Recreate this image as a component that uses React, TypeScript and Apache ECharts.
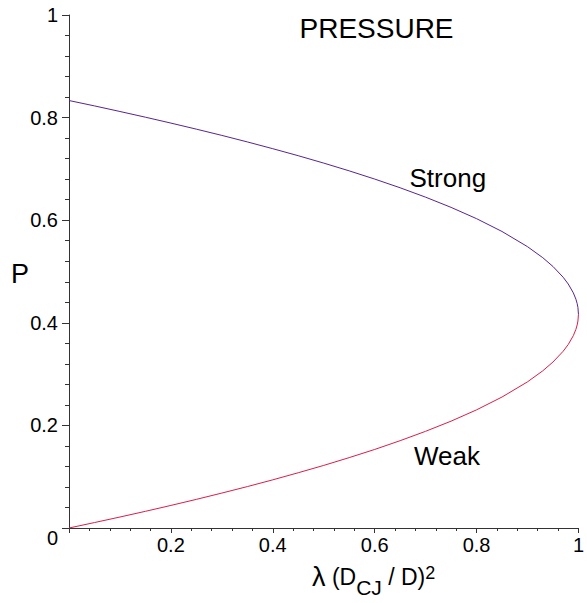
import React, { useEffect, useRef } from "react";
import * as echarts from "echarts";

// Values (lambda, P)
const lambdaValues = [0, 0.05, 0.1, 0.15, 0.2, 0.25, 0.3, 0.35, 0.4, 0.45, 0.5, 0.55, 0.6, 0.65, 0.7, 0.75, 0.8, 0.85, 0.9, 0.93, 0.95, 0.97, 0.98, 0.99, 0.995, 0.9975, 0.999, 1];
const strongP = [0.8333, 0.8228, 0.8119, 0.8008, 0.7893, 0.7775, 0.7653, 0.7526, 0.7394, 0.7257, 0.7113, 0.6962, 0.6802, 0.6632, 0.6449, 0.625, 0.603, 0.578, 0.5484, 0.5269, 0.5098, 0.4888, 0.4756, 0.4583, 0.4461, 0.4375, 0.4298, 0.4167];
const weakP = [0, 0.0106, 0.0214, 0.0325, 0.044, 0.0558, 0.0681, 0.0807, 0.0939, 0.1077, 0.122, 0.1372, 0.1531, 0.1702, 0.1885, 0.2083, 0.2303, 0.2553, 0.2849, 0.3064, 0.3235, 0.3445, 0.3577, 0.375, 0.3872, 0.3958, 0.4035, 0.4167];
const xTicks = { min: 0, max: 1, interval: 0.2 };
const yTicks = { min: 0, max: 1, interval: 0.2 };

const FONT = "'Liberation Sans', Arial, Helvetica, sans-serif";

export default function App() {
  const ref = useRef<HTMLDivElement>(null);
  useEffect(() => {
    if (!ref.current) return;
    const chart = echarts.init(ref.current, undefined, { renderer: "svg" });
    const strongData = lambdaValues.map((x, i) => [x, strongP[i]]);
    const weakData = lambdaValues.map((x, i) => [x, weakP[i]]);
    const axisColor = "#333";
    chart.setOption({
      animation: false,
      backgroundColor: "#fff",
      grid: { left: 69, right: 6, top: 15, bottom: 75, containLabel: false },
      xAxis: {
        type: "value",
        min: xTicks.min,
        max: xTicks.max,
        interval: xTicks.interval,
        axisLine: { show: true, onZero: false, lineStyle: { color: axisColor, width: 1 } },
        axisTick: { show: true, length: 5, lineStyle: { color: axisColor } },
        minorTick: { show: true, splitNumber: 5, length: 3, lineStyle: { color: axisColor } },
        splitLine: { show: false },
        axisLabel: {
          color: "#000",
          fontSize: 20,
          fontFamily: FONT,
          margin: 7,
          showMaxLabel: true,
          formatter: (v: number) => (v === 0 ? "" : String(Math.round(v * 10) / 10)),
        },
      },
      yAxis: {
        type: "value",
        min: yTicks.min,
        max: yTicks.max,
        interval: yTicks.interval,
        axisLine: { show: true, onZero: false, lineStyle: { color: axisColor, width: 1 } },
        axisTick: { show: true, length: 7, lineStyle: { color: axisColor } },
        minorTick: { show: true, splitNumber: 5, length: 4, lineStyle: { color: axisColor } },
        splitLine: { show: false },
        axisLabel: {
          color: "#000",
          fontSize: 20,
          fontFamily: FONT,
          margin: 11,
          showMaxLabel: true,
          formatter: (v: number) => (v === 0 ? "{z|0}" : String(Math.round(v * 10) / 10)),
          rich: { z: { fontSize: 20, fontFamily: FONT, color: "#000", padding: [19, 0, 0, 0] } },
        },
      },
      series: [
        {
          name: "Strong",
          type: "line",
          data: strongData,
          showSymbol: false,
          symbol: "none",
          lineStyle: { color: "#55268f", width: 1 },
          z: 3,
        },
        {
          name: "Weak",
          type: "line",
          data: weakData,
          showSymbol: false,
          symbol: "none",
          lineStyle: { color: "#d91e48", width: 1 },
          z: 2,
        },
      ],
      graphic: [
        {
          type: "text",
          x: 299.5,
          y: 28.5,
          style: { text: "PRESSURE", fontSize: 28, fontFamily: FONT, fill: "#000", verticalAlign: "middle", align: "left" },
        },
        {
          type: "text",
          x: 409.5,
          y: 177.5,
          style: { text: "Strong", fontSize: 26, fontFamily: FONT, fill: "#000", verticalAlign: "middle", align: "left" },
        },
        {
          type: "text",
          x: 414,
          y: 456,
          style: { text: "Weak", fontSize: 26, fontFamily: FONT, fill: "#000", verticalAlign: "middle", align: "left" },
        },
        {
          type: "text",
          x: 11,
          y: 273.5,
          style: { text: "P", fontSize: 27, fontFamily: FONT, fill: "#000", verticalAlign: "middle", align: "left" },
        },
        {
          type: "text",
          x: 312,
          y: 577,
          style: {
            text: "{l|λ}{n| (D}{s|CJ}{n| / D)}{p|2}",
            fontFamily: FONT,
            fill: "#000",
            verticalAlign: "middle",
            align: "left",
            rich: {
              l: { fontSize: 27, fontFamily: FONT, fill: "#000" },
              n: { fontSize: 23, fontFamily: FONT, fill: "#000" },
              s: { fontSize: 21, fontFamily: FONT, fill: "#000", padding: [20, 0, 0, 0] },
              p: { fontSize: 18, fontFamily: FONT, fill: "#000", padding: [0, 0, 8, 0] },
            },
          },
        },
      ],
    });
    return () => chart.dispose();
  }, []);
  return <div ref={ref} style={{ position: "fixed", left: 0, top: 0, width: 587, height: 603 }} />;
}
